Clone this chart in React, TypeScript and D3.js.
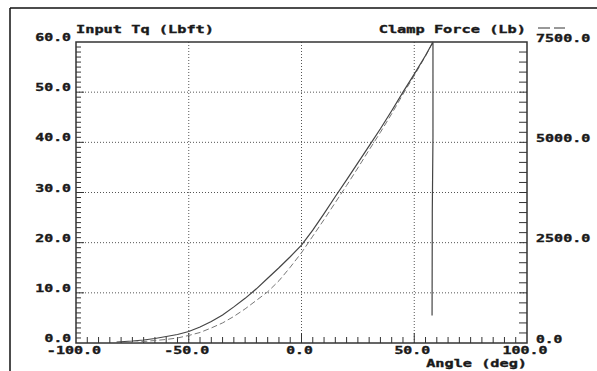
import React from "react";
import * as d3 from "d3";

// Tick labels
const xTickValues = [-100, -50, 0, 50, 100];
const yLeftTickValues = [0, 10, 20, 30, 40, 50, 60];
const yRightTickValues = [0, 2500, 5000, 7500];
const xGridValues = [-50, 0, 50];
const yGridValues = [10, 20, 30, 40, 50];

// Input Tq (Lbft) — solid
const tqAngle = [-82, -75, -70, -65, -60, -55, -50, -45, -40, -35, -30, -25, -20, -15, -10, -5, 0, 5, 10, 15, 20, 25, 30, 35, 40, 45, 50, 55, 58.3, 58.3, 58.0, 57.9];
const tqValue = [0.2, 0.4, 0.6, 0.9, 1.3, 1.7, 2.3, 3.2, 4.3, 5.6, 7.2, 8.9, 10.8, 12.9, 15.0, 17.2, 19.5, 22.5, 25.8, 29.2, 32.5, 35.9, 39.3, 42.7, 46.3, 50.0, 53.6, 57.3, 60, 41, 26, 5.5];

// Clamp Force (Lb) — dashed
const cfAngle = [-75, -70, -65, -60, -55, -50, -45, -40, -35, -30, -25, -20, -15, -10, -5, 0, 5, 10, 15, 20, 25, 30, 35, 40, 45, 50, 55, 58.3];
const cfValue = [12, 38, 62, 88, 125, 188, 262, 375, 500, 662, 850, 1062, 1275, 1550, 1888, 2250, 2662, 3075, 3500, 3925, 4362, 4812, 5250, 5712, 6200, 6662, 7150, 7500];

const W = 597;
const H = 371;
const L = 76, R = 527, T = 42, B = 343;
const FONT = "'DejaVu Sans Mono', 'Liberation Mono', monospace";
const CW = 9.3;

function Label({ x, y, text, anchor = "start" }: { x: number; y: number; text: string; anchor?: string }) {
  return (
    <text
      x={x}
      y={y}
      textAnchor={anchor as any}
      fontFamily={FONT}
      fontWeight="bold"
      fontSize={10}
      fill="#1a1a1a"
      stroke="#1a1a1a"
      strokeWidth={0.35}
      textLength={text.length * CW - 1.5}
      lengthAdjust="spacingAndGlyphs"
    >
      {text}
    </text>
  );
}

export default function App() {
  const x = d3.scaleLinear().domain([-100, 100]).range([L, R]);
  const yL = d3.scaleLinear().domain([0, 60]).range([B, T]);
  const yR = d3.scaleLinear().domain([0, 7500]).range([B, T]);

  const tqPts: [number, number][] = tqAngle.map((a, i) => [x(a), yL(tqValue[i])]);
  const cfPts: [number, number][] = cfAngle.map((a, i) => [x(a), yR(cfValue[i])]);
  const lineGen = d3.line<[number, number]>().curve(d3.curveLinear);

  const xMinor = d3.range(-95, 100, 5);
  const yLMinor = d3.range(1, 60, 1);
  const yRMinor = d3.range(250, 7500, 250);

  return (
    <svg width={W} height={H} style={{ position: "absolute", left: 0, top: 0, background: "#fff" }}>
      <rect x={0} y={0} width={W} height={H} fill="#fff" />
      {/* outer frame */}
      <line x1={10} y1={8} x2={W} y2={8} stroke="#111" strokeWidth={1.5} />
      <line x1={10} y1={8} x2={10} y2={H} stroke="#111" strokeWidth={1.5} />

      {/* grid */}
      {xGridValues.map((v) => (
        <line key={"gx" + v} x1={x(v)} x2={x(v)} y1={T} y2={B} stroke="#555" strokeWidth={1} strokeDasharray="1 2" />
      ))}
      {yGridValues.map((v) => (
        <line key={"gy" + v} x1={L} x2={R} y1={yL(v)} y2={yL(v)} stroke="#555" strokeWidth={1} strokeDasharray="1 2" />
      ))}

      {/* ticks */}
      {xMinor.map((v) => (
        <line key={"xt" + v} x1={x(v)} x2={x(v)} y1={B} y2={B - (v % 50 === 0 ? 10 : 6)} stroke="#333" strokeWidth={1} />
      ))}
      {yLMinor.map((v) => (
        <line key={"ylt" + v} x1={L} x2={L + (v % 10 === 0 ? 8 : 5)} y1={yL(v)} y2={yL(v)} stroke="#333" strokeWidth={1} />
      ))}
      {yRMinor.map((v) => (
        <line key={"yrt" + v} x1={R} x2={R - 8} y1={yR(v)} y2={yR(v)} stroke="#333" strokeWidth={1} />
      ))}

      {/* plot border */}
      <rect x={L} y={T} width={R - L} height={B - T} fill="none" stroke="#333" strokeWidth={1.5} />

      {/* curves */}
      <path d={lineGen(cfPts) || ""} fill="none" stroke="#777" strokeWidth={1} strokeDasharray="6 3" />
      <path d={lineGen(tqPts) || ""} fill="none" stroke="#444" strokeWidth={1.2} />

      {/* left labels */}
      {yLeftTickValues.map((v) => (
        <Label key={"yl" + v} x={71} y={yL(v) - 1} text={v.toFixed(1)} anchor="end" />
      ))}
      {/* right labels */}
      {yRightTickValues.map((v) => (
        <Label key={"yr" + v} x={536} y={yR(v) - 0.5} text={v.toFixed(1)} />
      ))}
      {/* bottom labels */}
      {xTickValues.map((v) => (
        <Label key={"xl" + v} x={x(v) - 2} y={353.5} text={v.toFixed(1)} anchor="middle" />
      ))}

      {/* titles */}
      <Label x={L} y={32.5} text="Input Tq (Lbft)" />
      <Label x={526} y={32.5} text="Clamp Force (Lb)" anchor="end" />
      <Label x={527} y={367} text="Angle (deg)" anchor="end" />

      {/* legend line style marker for clamp force */}
      <line x1={538} x2={550} y1={28} y2={28} stroke="#333" strokeWidth={1} />
      <line x1={554} x2={565} y1={28} y2={28} stroke="#333" strokeWidth={1} />
    </svg>
  );
}
